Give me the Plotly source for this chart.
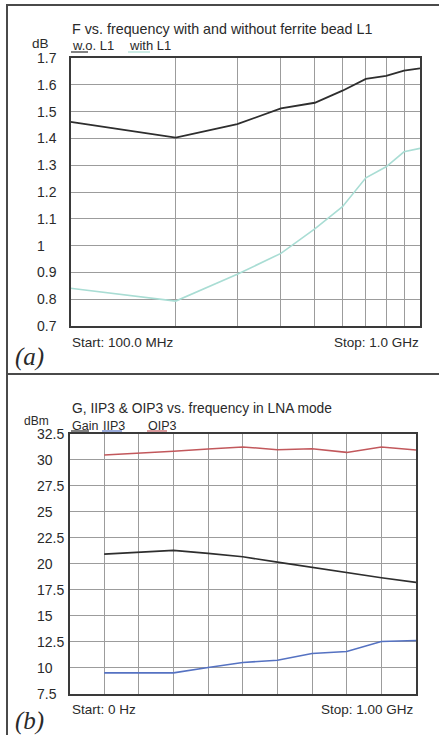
import plotly.graph_objects as go

# ---------------- data ----------------
# Panel (a): noise figure vs frequency (MHz, log axis)
freq_a = [100, 200, 300, 400, 500, 600, 700, 800, 900, 1000]
nf_without_l1 = [1.462, 1.403, 1.453, 1.512, 1.533, 1.578, 1.622, 1.633, 1.653, 1.661]
nf_with_l1 = [0.841, 0.793, 0.893, 0.971, 1.062, 1.145, 1.253, 1.294, 1.350, 1.363]
a_yticks = [0.7, 0.8, 0.9, 1.0, 1.1, 1.2, 1.3, 1.4, 1.5, 1.6, 1.7]
a_yticklabels = ["0.7", "0.8", "0.9", "1", "1.1", "1.2", "1.3", "1.4", "1.5", "1.6", "1.7"]
a_xgrid = [200, 300, 400, 500, 600, 700, 800, 900]

# Panel (b): gain, IIP3, OIP3 vs frequency (MHz, linear axis)
freq_b = [100, 200, 300, 400, 500, 600, 700, 800, 900, 1000]
gain = [20.93, 21.09, 21.29, 21.0, 20.67, 20.16, 19.65, 19.13, 18.65, 18.20]
iip3 = [9.49, 9.49, 9.49, 10.0, 10.49, 10.71, 11.36, 11.55, 12.51, 12.61]
oip3 = [30.48, 30.64, 30.83, 31.05, 31.25, 30.99, 31.09, 30.73, 31.25, 30.96]
b_yticks = [7.5, 10, 12.5, 15, 17.5, 20, 22.5, 25, 27.5, 30, 32.5]
b_yticklabels = ["7.5", "10", "12.5", "15", "17.5", "20", "22.5", "25", "27.5", "30", "32.5"]
b_xgrid = [100, 200, 300, 400, 500, 600, 700, 800, 900]

# ---------------- layout helpers ----------------
W, H = 439, 735
def px(x):
    return x / W
def py(y):
    return 1 - y / H

FONT = "Liberation Sans, Arial, Helvetica, sans-serif"
SERIF = "Liberation Serif, Times New Roman, serif"
TXT = "#2a2a2a"
GRID = "#9c9c9c"
BORDER = "#3a3a3a"

C_BLACK = "#2e2e2e"
C_CYAN = "#a9ddd4"
C_BLUE = "#5572c2"
C_RED = "#c2585c"

fig = go.Figure()

fig.add_trace(go.Scatter(x=freq_a, y=nf_without_l1, mode="lines", xaxis="x", yaxis="y",
                         line=dict(color=C_BLACK, width=1.8), showlegend=False))
fig.add_trace(go.Scatter(x=freq_a, y=nf_with_l1, mode="lines", xaxis="x", yaxis="y",
                         line=dict(color=C_CYAN, width=1.6), showlegend=False))

fig.add_trace(go.Scatter(x=freq_b, y=oip3, mode="lines", xaxis="x2", yaxis="y2",
                         line=dict(color=C_RED, width=1.5), showlegend=False))
fig.add_trace(go.Scatter(x=freq_b, y=gain, mode="lines", xaxis="x2", yaxis="y2",
                         line=dict(color=C_BLACK, width=1.6), showlegend=False))
fig.add_trace(go.Scatter(x=freq_b, y=iip3, mode="lines", xaxis="x2", yaxis="y2",
                         line=dict(color=C_BLUE, width=1.6), showlegend=False))

ax_common = dict(showline=True, mirror=True, linecolor=BORDER, linewidth=1.6,
                 showgrid=True, gridcolor=GRID, gridwidth=1.4, zeroline=False,
                 showticklabels=False, ticks="", fixedrange=True)

fig.update_layout(
    width=W, height=H, autosize=False,
    margin=dict(l=0, r=0, t=0, b=0),
    paper_bgcolor="white", plot_bgcolor="white",
    font=dict(family=FONT, color=TXT, size=13),
    xaxis=dict(domain=[px(70.5), px(420)], type="log", range=[2, 3],
               tickmode="array", tickvals=a_xgrid, anchor="y", **ax_common),
    yaxis=dict(domain=[py(326), py(58)], range=[0.7, 1.7],
               tickmode="array", tickvals=a_yticks, anchor="x", **ax_common),
    xaxis2=dict(domain=[px(69.5), px(416)], range=[0, 1000],
                tickmode="array", tickvals=b_xgrid, anchor="y2", **ax_common),
    yaxis2=dict(domain=[py(693.5), py(434)], range=[7.5, 32.5],
                tickmode="array", tickvals=b_yticks, anchor="x2", **ax_common),
)

ann = []
# y tick labels, left aligned like the original
for v, t in zip(a_yticks, a_yticklabels):
    ann.append(dict(x=px(35), xref="paper", y=v, yref="y", text=t, showarrow=False,
                    xanchor="left", yanchor="middle", font=dict(size=14, color=TXT)))
for v, t in zip(b_yticks, b_yticklabels):
    ann.append(dict(x=px(35), xref="paper", y=v, yref="y2", text=t, showarrow=False,
                    xanchor="left", yanchor="middle", font=dict(size=14, color=TXT)))

def txt(x, y, t, anchor="left", size=13.5, family=FONT):
    ann.append(dict(x=px(x), y=py(y), xref="paper", yref="paper", text=t, showarrow=False,
                    xanchor=anchor, yanchor="middle", borderpad=0,
                    font=dict(size=size, family=family, color=TXT)))

# Panel (a) texts
txt(71, 28.5, "F vs. frequency with and without ferrite bead L1", size=14.3)
txt(50, 43.5, "dB", anchor="right", size=13.5)
txt(71, 45.5, "w.o. L1", size=13)
txt(128, 45.5, "with L1", size=13)
txt(71, 342, "Start: 100.0 MHz")
txt(420, 342, "Stop: 1.0 GHz", anchor="right")
txt(14, 357, "<i>(a)</i>", size=25, family=SERIF)

# Panel (b) texts
txt(71, 408, "G, IIP3 &amp; OIP3 vs. frequency in LNA mode", size=13.8)
txt(50, 420.5, "dBm", anchor="right", size=12)
txt(71, 425.5, "Gain", size=12.5)
txt(102, 425.5, "IIP3", size=12.5)
txt(147, 425.5, "OIP3", size=12.5)
txt(71, 709, "Start: 0 Hz")
txt(415, 709, "Stop: 1.00 GHz", anchor="right")
txt(14, 721, "<i>(b)</i>", size=25, family=SERIF)

shapes = []
def hline(x0, x1, y, color, width=1.2):
    shapes.append(dict(type="line", xref="paper", yref="paper", x0=px(x0), x1=px(x1),
                       y0=py(y), y1=py(y), line=dict(color=color, width=width)))

# legend underlines
hline(71, 88, 52, C_BLACK)
hline(128, 150, 52, C_CYAN)
hline(71, 89, 431, C_BLACK)
hline(102, 122, 431, C_BLUE)
hline(147, 167, 431, C_RED)

# outer frame and divider
shapes.append(dict(type="rect", xref="paper", yref="paper", x0=px(7), x1=px(445),
                   y0=py(745), y1=py(5), line=dict(color="#4a4a4a", width=2)))
hline(7, 445, 374, "#4a4a4a", width=2)

fig.update_layout(annotations=ann, shapes=shapes)

fig.write_html("out.html", config={"displayModeBar": False},
               post_script="document.body.style.margin='0';document.body.style.overflow='hidden';")
